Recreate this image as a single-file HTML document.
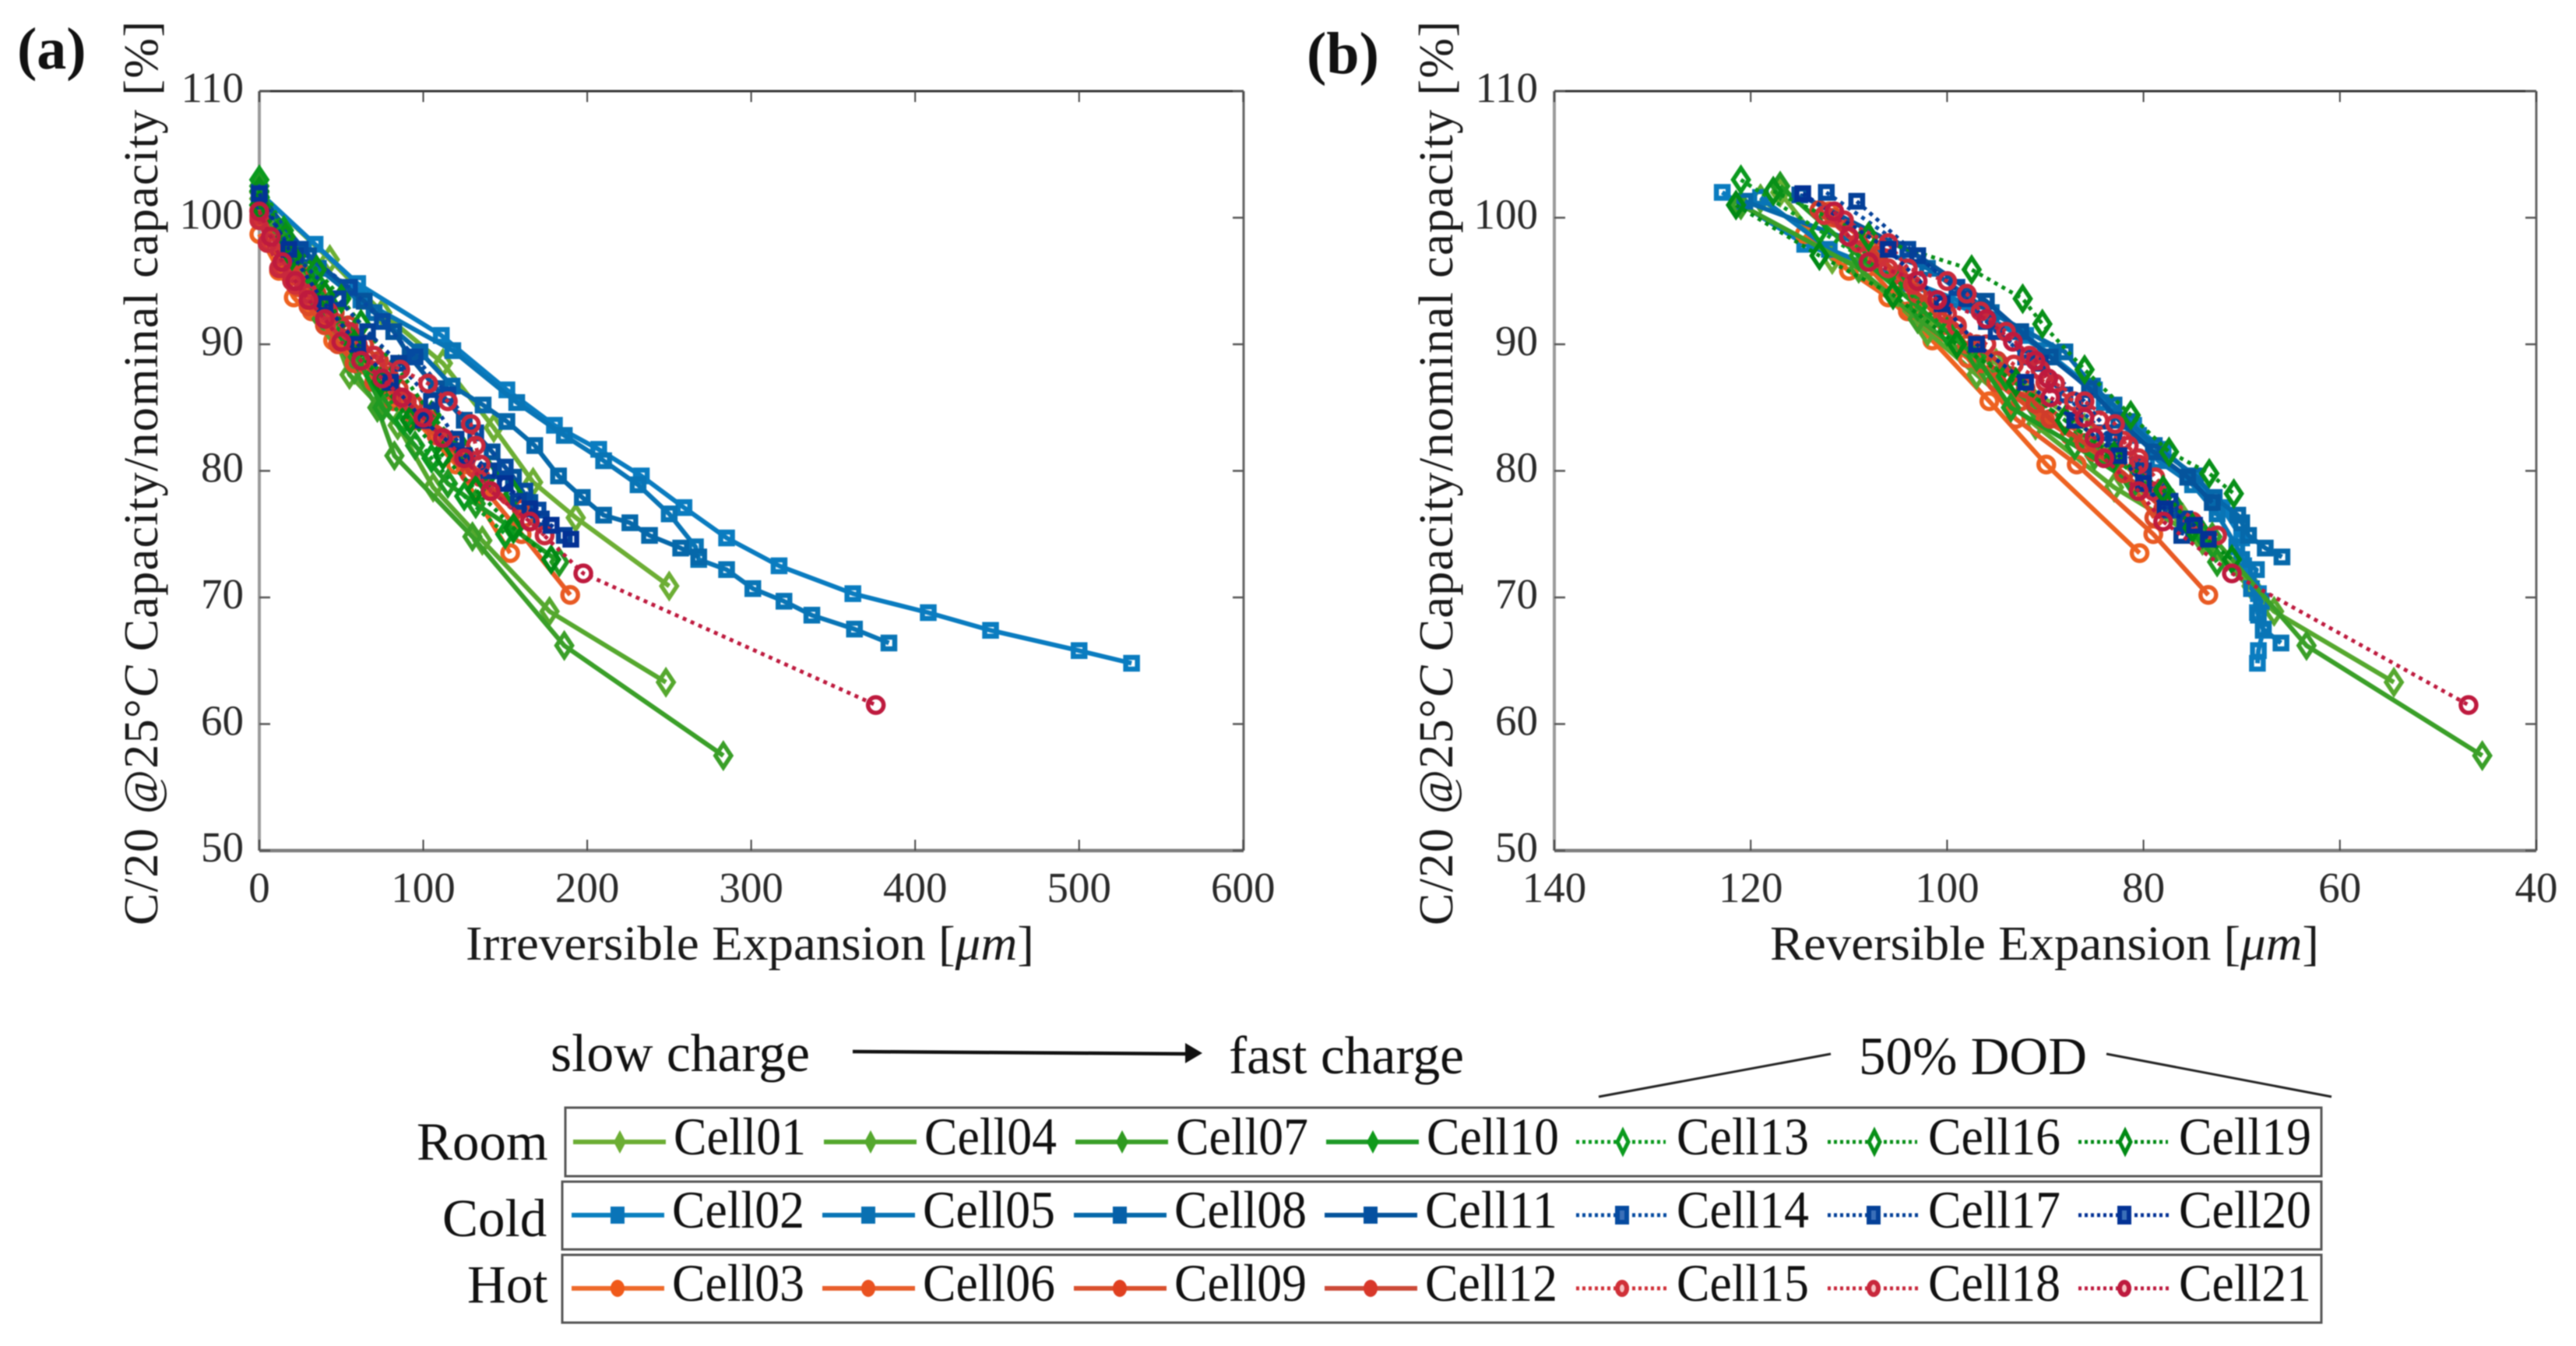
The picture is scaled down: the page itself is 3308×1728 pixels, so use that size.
<!DOCTYPE html>
<html lang="en">
<head>
<meta charset="utf-8">
<title>Capacity vs expansion</title>
<style>
html,body{margin:0;padding:0;background:#fff;width:3308px;height:1728px;overflow:hidden}
svg{display:block;filter:blur(0.9px)}
text{font-family:"Liberation Serif",serif;fill:#1a1a1a}
.lab{font-size:69px;fill:#111}
.cell{font-size:68px;fill:#111}
.ax{font-size:62px}
.tick{font-size:55px;fill:#2a2a2a}
.panel{font-size:76px;font-weight:bold;fill:#111}
</style>
</head>
<body>
<svg id="figure" xmlns="http://www.w3.org/2000/svg" width="3308" height="1728" viewBox="0 0 3308 1728">
  <rect width="3308" height="1728" fill="#fff"/>
  <text class="panel" x="22" y="88">(a)</text>
  <text class="panel" x="1678" y="94">(b)</text>

  <g id="axes-a"></g>
  <g id="axes-b"></g>

  <text class="ax" transform="translate(202,1188) rotate(-90)" textLength="1161" lengthAdjust="spacing">C/20 @25°<tspan font-style="italic">C</tspan> Capacity/nominal capacity [%]</text>
  <text class="ax" transform="translate(1865,1188) rotate(-90)" textLength="1161" lengthAdjust="spacing">C/20 @25°<tspan font-style="italic">C</tspan> Capacity/nominal capacity [%]</text>
  <text class="ax" x="598" y="1232" textLength="730" lengthAdjust="spacingAndGlyphs">Irreversible Expansion [<tspan font-style="italic">μm</tspan>]</text>
  <text class="ax" x="2273" y="1232" textLength="705" lengthAdjust="spacingAndGlyphs">Reversible Expansion [<tspan font-style="italic">μm</tspan>]</text>

  <g id="plot-a"></g>
  <g id="plot-b"></g>

  <text class="lab" x="707" y="1375" textLength="333" lengthAdjust="spacingAndGlyphs">slow charge</text>
  <g>
    <line x1="1095" y1="1350" x2="1530" y2="1353" stroke="#111" stroke-width="4.5"/>
    <path d="M1522 1339 L1544 1352 L1522 1365 Z" fill="#111"/>
  </g>
  <text class="lab" x="1578" y="1378" textLength="302" lengthAdjust="spacingAndGlyphs">fast charge</text>
  <text class="lab" x="2387" y="1379" textLength="293" lengthAdjust="spacingAndGlyphs">50% DOD</text>
  <line x1="2053" y1="1408" x2="2351" y2="1353" stroke="#222" stroke-width="3"/>
  <line x1="2705" y1="1353" x2="2994" y2="1408" stroke="#222" stroke-width="3"/>

  <text class="lab" x="535" y="1489">Room</text>
  <text class="lab" x="568" y="1587">Cold</text>
  <text class="lab" x="600" y="1672">Hot</text>

  <rect x="726" y="1422" width="2255" height="88" fill="none" stroke="#555" stroke-width="3"/>
  <rect x="722" y="1517" width="2259" height="87" fill="none" stroke="#555" stroke-width="3"/>
  <rect x="722" y="1611" width="2259" height="87" fill="none" stroke="#555" stroke-width="3"/>

  <!-- Room row -->
  <g><line x1="736" x2="855" y1="1466" y2="1466" stroke="#6cae34" stroke-width="6"/><path d="M796 1451l8 15l-8 15l-8-15z" fill="#6cae34"/><text class="cell" x="865" y="1482" textLength="170" lengthAdjust="spacingAndGlyphs">Cell01</text></g>
  <g><line x1="1058" x2="1177" y1="1466" y2="1466" stroke="#55a82e" stroke-width="6"/><path d="M1118 1451l8 15l-8 15l-8-15z" fill="#55a82e"/><text class="cell" x="1187" y="1482" textLength="170" lengthAdjust="spacingAndGlyphs">Cell04</text></g>
  <g><line x1="1381" x2="1500" y1="1466" y2="1466" stroke="#3a9f28" stroke-width="6"/><path d="M1441 1451l8 15l-8 15l-8-15z" fill="#2f9a20"/><text class="cell" x="1510" y="1482" textLength="170" lengthAdjust="spacingAndGlyphs">Cell07</text></g>
  <g><line x1="1703" x2="1822" y1="1466" y2="1466" stroke="#1f9a28" stroke-width="6"/><path d="M1763 1451l8 15l-8 15l-8-15z" fill="#0f9a1a"/><text class="cell" x="1832" y="1482" textLength="170" lengthAdjust="spacingAndGlyphs">Cell10</text></g>
  <g><line x1="2024" x2="2139" y1="1466" y2="1466" stroke="#0a9a1e" stroke-width="5" stroke-dasharray="4 4"/><path d="M2084 1452l7 14l-7 14l-7-14z" fill="#fff" stroke="#0a9a1e" stroke-width="5"/><text class="cell" x="2153" y="1482" textLength="170" lengthAdjust="spacingAndGlyphs">Cell13</text></g>
  <g><line x1="2347" x2="2462" y1="1466" y2="1466" stroke="#089018" stroke-width="5" stroke-dasharray="4 4"/><path d="M2407 1452l7 14l-7 14l-7-14z" fill="#fff" stroke="#089018" stroke-width="5"/><text class="cell" x="2476" y="1482" textLength="170" lengthAdjust="spacingAndGlyphs">Cell16</text></g>
  <g><line x1="2669" x2="2784" y1="1466" y2="1466" stroke="#008a14" stroke-width="5" stroke-dasharray="4 4"/><path d="M2729 1452l7 14l-7 14l-7-14z" fill="#fff" stroke="#008a14" stroke-width="5"/><text class="cell" x="2798" y="1482" textLength="170" lengthAdjust="spacingAndGlyphs">Cell19</text></g>

  <!-- Cold row -->
  <g><line x1="734" x2="853" y1="1560" y2="1560" stroke="#0a80c0" stroke-width="6"/><rect x="784" y="1549" width="18" height="22" fill="#0a74b8"/><text class="cell" x="863" y="1576" textLength="170" lengthAdjust="spacingAndGlyphs">Cell02</text></g>
  <g><line x1="1056" x2="1175" y1="1560" y2="1560" stroke="#0975b6" stroke-width="6"/><rect x="1106" y="1549" width="18" height="22" fill="#0970b2"/><text class="cell" x="1185" y="1576" textLength="170" lengthAdjust="spacingAndGlyphs">Cell05</text></g>
  <g><line x1="1379" x2="1498" y1="1560" y2="1560" stroke="#0668aa" stroke-width="6"/><rect x="1429" y="1549" width="18" height="22" fill="#0660a8"/><text class="cell" x="1508" y="1576" textLength="170" lengthAdjust="spacingAndGlyphs">Cell08</text></g>
  <g><line x1="1701" x2="1820" y1="1560" y2="1560" stroke="#05549c" stroke-width="6"/><rect x="1751" y="1549" width="18" height="22" fill="#0450a0"/><text class="cell" x="1830" y="1576" textLength="170" lengthAdjust="spacingAndGlyphs">Cell11</text></g>
  <g><line x1="2024" x2="2141" y1="1560" y2="1560" stroke="#054aa0" stroke-width="5" stroke-dasharray="4 4"/><rect x="2077" y="1551" width="12" height="18" fill="#3a6fb8" stroke="#054aa0" stroke-width="6"/><text class="cell" x="2153" y="1576" textLength="170" lengthAdjust="spacingAndGlyphs">Cell14</text></g>
  <g><line x1="2347" x2="2464" y1="1560" y2="1560" stroke="#044098" stroke-width="5" stroke-dasharray="4 4"/><rect x="2400" y="1551" width="12" height="18" fill="#3a6fb8" stroke="#044098" stroke-width="6"/><text class="cell" x="2476" y="1576" textLength="170" lengthAdjust="spacingAndGlyphs">Cell17</text></g>
  <g><line x1="2669" x2="2786" y1="1560" y2="1560" stroke="#033295" stroke-width="5" stroke-dasharray="4 4"/><rect x="2722" y="1551" width="12" height="18" fill="#3a6fb8" stroke="#033295" stroke-width="6"/><text class="cell" x="2798" y="1576" textLength="170" lengthAdjust="spacingAndGlyphs">Cell20</text></g>

  <!-- Hot row -->
  <g><line x1="734" x2="853" y1="1654" y2="1654" stroke="#ee6a2a" stroke-width="6"/><ellipse cx="793" cy="1654" rx="9" ry="11" fill="#f05a1a"/><text class="cell" x="863" y="1670" textLength="170" lengthAdjust="spacingAndGlyphs">Cell03</text></g>
  <g><line x1="1056" x2="1175" y1="1654" y2="1654" stroke="#e85f2c" stroke-width="6"/><ellipse cx="1115" cy="1654" rx="9" ry="11" fill="#ea5220"/><text class="cell" x="1185" y="1670" textLength="170" lengthAdjust="spacingAndGlyphs">Cell06</text></g>
  <g><line x1="1379" x2="1498" y1="1654" y2="1654" stroke="#d9502e" stroke-width="6"/><ellipse cx="1438" cy="1654" rx="9" ry="11" fill="#e04020"/><text class="cell" x="1508" y="1670" textLength="170" lengthAdjust="spacingAndGlyphs">Cell09</text></g>
  <g><line x1="1701" x2="1820" y1="1654" y2="1654" stroke="#cc4a38" stroke-width="6"/><ellipse cx="1760" cy="1654" rx="9" ry="11" fill="#d8382a"/><text class="cell" x="1830" y="1670" textLength="170" lengthAdjust="spacingAndGlyphs">Cell12</text></g>
  <g><line x1="2024" x2="2141" y1="1654" y2="1654" stroke="#d03038" stroke-width="5" stroke-dasharray="4 4"/><ellipse cx="2083" cy="1654" rx="6" ry="8" fill="#f6c0c0" stroke="#d03038" stroke-width="6"/><text class="cell" x="2153" y="1670" textLength="170" lengthAdjust="spacingAndGlyphs">Cell15</text></g>
  <g><line x1="2347" x2="2464" y1="1654" y2="1654" stroke="#c8283c" stroke-width="5" stroke-dasharray="4 4"/><ellipse cx="2406" cy="1654" rx="6" ry="8" fill="#f6c0c0" stroke="#c8283c" stroke-width="6"/><text class="cell" x="2476" y="1670" textLength="170" lengthAdjust="spacingAndGlyphs">Cell18</text></g>
  <g><line x1="2669" x2="2786" y1="1654" y2="1654" stroke="#be1a3e" stroke-width="5" stroke-dasharray="4 4"/><ellipse cx="2728" cy="1654" rx="6" ry="8" fill="#f6c0c0" stroke="#be1a3e" stroke-width="6"/><text class="cell" x="2798" y="1670" textLength="170" lengthAdjust="spacingAndGlyphs">Cell21</text></g>
</svg>

<script>
// Tick values
const capacityTicks = [50, 60, 70, 80, 90, 100, 110];
const irreversibleTicks = [0, 100, 200, 300, 400, 500, 600];
const reversibleTicks = [140, 120, 100, 80, 60, 40];

// Cell data: capacity [%], irreversible expansion [um], reversible expansion [um]
const cell01Cap = [102, 96.7, 92.5, 88.5, 83.4, 79.1, 76.3, 70.9];
const cell01Irr = [0, 43, 75, 112, 143, 167, 193, 250];
const cell01Rev = [117, 111.7, 103, 95, 86, 80, 76, 69];

const cell02Cap = [102, 97.9, 94.8, 90.7, 86.4, 83.6, 81.7, 79.6, 77.1, 74.7, 72.5, 70.3, 68.8, 67.4, 65.8, 64.8];
const cell02Irr = [0, 34, 60, 111, 151, 180, 207, 233, 259, 285, 317, 362, 408, 446, 500, 532];
const cell02Rev = [122.9, 114.5, 104, 92, 85, 81, 78, 75, 72, 70, 69.8, 68.3, 68.4, 67.8, 68.3, 68.4];

const cell03Cap = [98.7, 95.8, 93.7, 90.3, 85.5, 80.5, 73.5];
const cell03Irr = [0, 12, 21, 45, 85, 120, 153];
const cell03Rev = [114.5, 110, 106, 101.5, 95.7, 89.9, 80.4];

const cell04Cap = [101.5, 96, 91, 87.6, 83.6, 78.7, 74.5, 68.9, 63.3];
const cell04Irr = [0, 25, 45, 55, 84.4, 106, 136, 177, 248];
const cell04Rev = [119, 109, 102, 97, 91, 83, 74, 66.7, 54.5];

const cell05Cap = [101.6, 97.5, 93.5, 89.5, 85.4, 82.8, 80.8, 78.9, 76.6, 74, 73, 72.2, 70.7, 69.7, 68.6, 67.5, 66.4];
const cell05Irr = [0, 26, 62, 118, 157, 186, 210, 231, 250, 266, 268, 285, 301, 320, 337, 363, 384];
const cell05Rev = [119, 112, 99, 90, 84, 80.5, 78.5, 75, 72.5, 70.5, 70, 68.5, 69, 68, 68.3, 67.8, 66];

const cell06Cap = [100.5, 96.1, 92.6, 88.9, 84.1, 80.5, 75, 70.2];
const cell06Irr = [0, 17.5, 32, 60, 95, 125, 160, 189.6];
const cell06Rev = [112, 108, 104, 97.9, 93, 86.8, 79, 73.4];

const cell07Cap = [101, 96, 92, 88, 85, 81.2, 74.8, 66.2, 57.5];
const cell07Irr = [0, 20, 38, 58, 72, 82.4, 130, 186, 283];
const cell07Rev = [121, 109, 103, 96, 91, 85, 73, 63.4, 45.5];

const cell08Cap = [101.3, 96, 92.5, 89.4, 86.7, 85.2, 83.9, 82, 79.6, 77.9, 76.5, 75.9, 74.9, 73.9, 73.2];
const cell08Irr = [0, 36, 70, 98, 117.6, 136.5, 151, 168, 182.5, 197, 210, 226, 238, 257, 268];
const cell08Rev = [120.6, 102, 95.5, 88, 85.2, 83, 81.5, 78.9, 74.7, 72.8, 70.4, 70, 69.3, 67.6, 65.9];

const cell09Cap = [100, 98, 96, 94.5, 93, 91.5, 90, 88.5, 87, 85.5, 84, 82.8, 81.5, 79.8, 76.3];
const cell09Irr = [0, 6, 16, 24, 30, 40, 48, 58, 70, 82, 95, 108, 120, 128, 162];
const cell09Rev = [111.5, 108, 106, 104, 102, 100, 98, 96.5, 95, 92.5, 90, 87.5, 85, 82, 78.9];

const cell10Cap = [102.5, 97, 93, 89, 85, 82, 79, 77.4, 75.4, 72.8];
const cell10Irr = [0, 22, 42, 60, 75, 95, 115, 132, 155, 183];
const cell10Rev = [117, 109, 103, 97, 93.5, 87, 81, 77, 75, 72.5];

const cell11Cap = [101.8, 97, 93.4, 91, 89, 86.5, 84, 81.5, 79.5, 77.5];
const cell11Irr = [0, 30, 64, 82, 92, 108, 125, 142, 155, 165];
const cell11Rev = [115, 103, 96, 92.5, 89.5, 85.5, 82.5, 79, 75.5, 73];

const cell12Cap = [100.6, 98.5, 97, 95.5, 94, 92.5, 91.5, 90, 88.7, 87.5, 86.5, 85.3, 84.1, 82.2, 81, 79.8, 77];
const cell12Irr = [0, 8, 15, 25, 35, 46, 54.5, 64, 73, 79, 85, 94, 103, 120, 124, 128, 160];
const cell12Rev = [113, 110, 107, 105, 103, 100.5, 99, 97, 94.9, 93.5, 92, 91, 89.5, 86, 84, 82, 78];

const cell13Cap = [103, 99, 95, 91, 87.5, 84, 81, 78, 75];
const cell13Irr = [0, 15, 34, 52, 70, 88, 105, 125, 150];
const cell13Rev = [121, 113, 105, 100, 94, 88, 83, 78, 74];

const cell14Cap = [102, 97.5, 94.5, 91.8, 89, 86, 83, 80.3, 78.4, 76.9, 75.7];
const cell14Irr = [0, 25, 55, 75, 95, 115, 132, 150, 162, 170, 178];
const cell14Rev = [112.3, 104, 99, 96, 92, 88, 84, 80.3, 78.5, 77.2, 75.5];

const cell15Cap = [100.2, 98, 96, 94.7, 93.5, 92.4, 91.4, 90, 88.4, 87, 85.5, 84, 82.4, 81, 79.5, 76];
const cell15Irr = [0, 7, 14, 22, 32, 41, 50, 60, 71, 80, 90, 102, 115, 125, 135, 165];
const cell15Rev = [112.5, 109, 106, 103.5, 101, 100, 99, 96, 93.2, 90, 87.1, 84.5, 82.1, 80.5, 78.8, 75];

const cell16Cap = [102.1, 98.5, 95.9, 93.6, 91.6, 88, 84.4, 81.5, 79.8, 78.2];
const cell16Irr = [0, 16, 35, 50, 62, 85, 105, 125, 140, 155];
const cell16Rev = [117.7, 108, 97.5, 92.3, 90.3, 86, 81.3, 77.4, 73.3, 70.8];

const cell17Cap = [101.3, 97, 93.6, 91, 88.5, 85.5, 82.5, 80, 77.6, 76.2, 74.9];
const cell17Irr = [0, 22, 48, 66, 85, 105, 120, 140, 158, 172, 186];
const cell17Rev = [109.2, 103, 98, 95, 90.5, 86, 83, 80, 77.3, 75.8, 76.1];

const cell18Cap = [99.8, 98, 96, 95, 94, 92.6, 91, 89.1, 88, 86.9, 85.5, 83.7, 82, 80.5, 78.4, 74.9];
const cell18Irr = [0, 5, 12, 20, 30, 42, 55, 70, 86, 103, 115, 129, 132, 135, 141, 174];
const cell18Rev = [110.5, 106, 104, 100, 98, 96.6, 94, 91.6, 90.5, 89, 86, 82.9, 81.5, 80.5, 79, 72.5];

const cell19Cap = [101, 97, 93.9, 90, 87, 84, 81.2, 78.5, 75.5, 73];
const cell19Irr = [0, 20, 40, 58, 74, 92, 112, 132, 155, 178];
const cell19Rev = [121.5, 113, 105.5, 99, 93, 88, 83, 78, 75, 71];

const cell20Cap = [101.9, 97.5, 93.2, 90, 87, 84, 81.2, 79, 77, 75.7, 74.6];
const cell20Irr = [0, 18, 40, 60, 80, 100, 125, 150, 165, 178, 190];
const cell20Rev = [114.7, 106, 100.5, 97, 92, 87, 82.5, 80, 77.8, 74.8, 73.4];

const cell21Cap = [100.5, 98.5, 96.5, 95, 93.5, 92, 90.2, 88.7, 87.3, 85.8, 84.2, 82.6, 81, 78.4, 76, 71.9, 61.5];
const cell21Irr = [0, 7, 14, 22, 30, 40, 50, 62, 75, 87, 100, 112, 125, 141, 165, 197.6, 376];
const cell21Rev = [111.5, 110, 108, 103, 101, 96, 93.3, 91, 89.7, 89.5, 86, 85, 84, 80.5, 78, 71, 46.9];

// Series list, in draw order
const cellNames = ['cell01','cell02','cell03','cell04','cell05','cell06','cell07','cell08','cell09','cell10','cell11','cell12','cell13','cell14','cell15','cell16','cell17','cell18','cell19','cell20','cell21'];
const cellCaps = [cell01Cap,cell02Cap,cell03Cap,cell04Cap,cell05Cap,cell06Cap,cell07Cap,cell08Cap,cell09Cap,cell10Cap,cell11Cap,cell12Cap,cell13Cap,cell14Cap,cell15Cap,cell16Cap,cell17Cap,cell18Cap,cell19Cap,cell20Cap,cell21Cap];
const cellIrrs = [cell01Irr,cell02Irr,cell03Irr,cell04Irr,cell05Irr,cell06Irr,cell07Irr,cell08Irr,cell09Irr,cell10Irr,cell11Irr,cell12Irr,cell13Irr,cell14Irr,cell15Irr,cell16Irr,cell17Irr,cell18Irr,cell19Irr,cell20Irr,cell21Irr];
const cellRevs = [cell01Rev,cell02Rev,cell03Rev,cell04Rev,cell05Rev,cell06Rev,cell07Rev,cell08Rev,cell09Rev,cell10Rev,cell11Rev,cell12Rev,cell13Rev,cell14Rev,cell15Rev,cell16Rev,cell17Rev,cell18Rev,cell19Rev,cell20Rev,cell21Rev];

// Styling, kept apart from the data
const cellColors = ['#6cae34','#0a7cc0','#ee6220','#55a82e','#0975b6','#e85a24','#3a9f28','#0668aa','#dc4a26','#1f9a22','#05549c','#d03c2a','#0a9a1e','#054aa0','#d03038','#089018','#044098','#c8283c','#008a14','#033295','#be1a3e'];
const cellKinds = ['d','s','c'];

const SVGNS = 'http://www.w3.org/2000/svg';

// Axis functions
const yAxis = v => 117 + (110 - v) * 16.25;
const xAxisA = v => 333 + v * 2.1055;
const xAxisB = v => 1996 + (140 - v) * 12.61;

function el(tag, attrs, parent) {
  const n = document.createElementNS(SVGNS, tag);
  for (const k in attrs) n.setAttribute(k, attrs[k]);
  parent.appendChild(n);
  return n;
}

function drawAxes(parent, left, right, xScale, xTicks, yLabelRight) {
  const top = 117, bottom = 1092;
  const leftLine = el('line', {x1:left, x2:left, y1:top, y2:bottom, stroke:'#9a9a9a', 'stroke-width':4}, parent);
  
  
  const topLine = el('line', {x1:left, x2:right, y1:top, y2:top, stroke:'#333', 'stroke-width':3}, parent);
  
  
  const rightLine = el('line', {x1:right, x2:right, y1:top, y2:bottom, stroke:'#666', 'stroke-width':3}, parent);
  
  
  const bottomLine = el('line', {x1:left, x2:right, y1:bottom, y2:bottom, stroke:'#7e7e7e', 'stroke-width':4.5}, parent);
  
  

  xTicks.forEach(v => {
    const x = xScale(v);
    const b = el('line', {x1:x, x2:x, y1:bottom, y2:bottom-14, stroke:'#444', 'stroke-width':2}, parent);
    
    
    const t = el('line', {x1:x, x2:x, y1:top, y2:top+14, stroke:'#444', 'stroke-width':2}, parent);
    
    
    const label = el('text', {x:x, y:1158, 'text-anchor':'middle', class:'tick'}, parent);
    
    
    label.textContent = v;
  });
  capacityTicks.forEach(v => {
    const y = yAxis(v);
    const l = el('line', {x1:left, x2:left+14, y1:y, y2:y, stroke:'#555', 'stroke-width':2.5}, parent);
    
    
    const r = el('line', {x1:right, x2:right-14, y1:y, y2:y, stroke:'#555', 'stroke-width':2.5}, parent);
    
    
    const label = el('text', {x:yLabelRight, y:y+14, 'text-anchor':'end', class:'tick'}, parent);
    
    
    label.textContent = v;
  });
}

function drawMarker(parent, kind, x, y, color) {
  let m;
  if (kind === 'd') {
    m = el('path', {d:`M${x} ${y-15}L${x+10} ${y}L${x} ${y+15}L${x-10} ${y}Z`, fill:'none', stroke:color, 'stroke-width':5.5}, parent);
  } else if (kind === 's') {
    m = el('rect', {x:x-7.5, y:y-7.5, width:15, height:15, fill:'none', stroke:color, 'stroke-width':6.5}, parent);
  } else {
    m = el('circle', {cx:x, cy:y, r:10, fill:'none', stroke:color, 'stroke-width':5.5}, parent);
  }
  return m;
}

function drawSeries(parent, xScale, xSeriesList) {
  cellNames.forEach((name, i) => {
    const color = cellColors[i];
    const dotted = i >= 12;
    const kind = cellKinds[i % 3];
    const caps = cellCaps[i];
    const xs = xSeriesList[i];
    const g = el('g', {}, parent);
    
    
    const pts = caps.map((c, j) => xScale(xs[j]).toFixed(1) + ',' + yAxis(c).toFixed(1)).join(' ');
    const line = el('polyline', {points:pts, fill:'none', stroke:color, 'stroke-width':dotted ? 5 : 6, 'stroke-linejoin':'round'}, g);
    if (dotted) line.setAttribute('stroke-dasharray', '5 6');
    
    
    caps.forEach((c, j) => {
      const m = drawMarker(g, kind, xScale(xs[j]), yAxis(c), color);
      
      
    });
  });
}

drawAxes(document.getElementById('axes-a'), 333, 1597, xAxisA, irreversibleTicks, 313);
drawAxes(document.getElementById('axes-b'), 1996, 3257, xAxisB, reversibleTicks, 1975);
drawSeries(document.getElementById('plot-a'), xAxisA, cellIrrs);
drawSeries(document.getElementById('plot-b'), xAxisB, cellRevs);
</script>
</body>
</html>
